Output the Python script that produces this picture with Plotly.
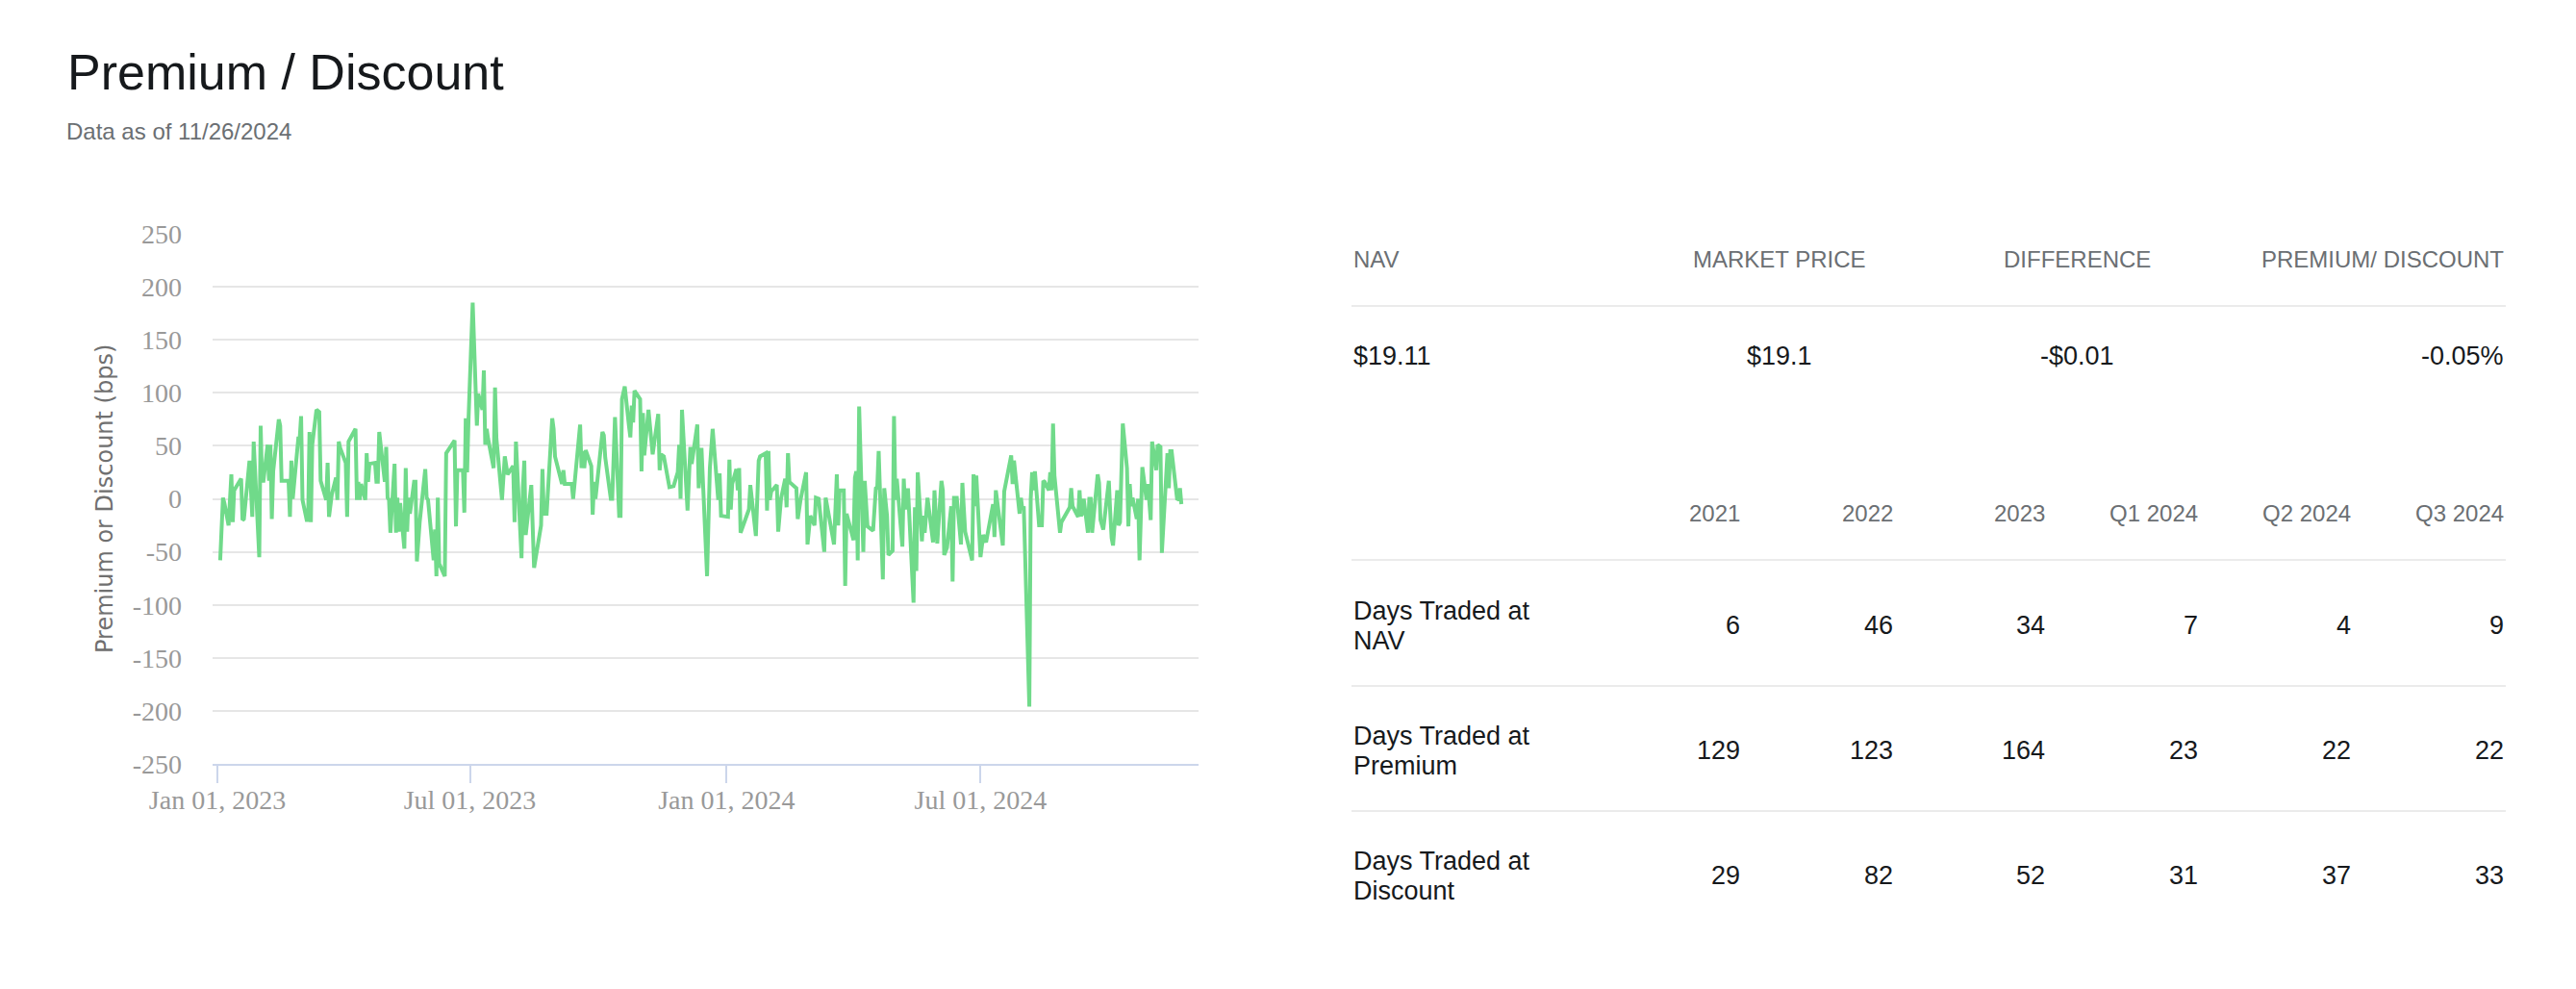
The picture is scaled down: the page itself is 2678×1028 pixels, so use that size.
import pandas as pd
import plotly.graph_objects as go

# %%
# premium / discount in bps (trading-day index from 2023-01-03)
day_idx = [
    0, 1, 2, 3, 4, 6, 7, 8, 10, 11, 12, 14, 15, 16, 17, 18, 19, 20, 21, 22, 23, 24, 25, 26, 27, 29, 30, 31, 33, 34,
    35, 36, 38, 39, 40, 41, 42, 43, 44, 45, 46, 47, 49, 50, 52, 53, 54, 56, 57, 58, 59, 60, 62, 63, 64, 66, 67, 68, 69, 70,
    71, 72, 73, 74, 76, 77, 78, 79, 80, 81, 82, 83, 84, 85, 86, 87, 88, 89, 90, 91, 92, 93, 94, 95, 96, 97, 98, 100, 101, 102,
    103, 105, 106, 107, 108, 109, 111, 112, 115, 116, 117, 119, 120, 121, 122, 123, 124, 126, 127, 128, 129, 130, 131, 132, 134, 135, 136, 138, 140, 141,
    142, 144, 145, 146, 148, 149, 150, 151, 153, 155, 158, 159, 160, 162, 164, 165, 166, 168, 169, 170, 173, 174, 177, 178, 179, 180, 181, 183, 184, 185,
    186, 189, 190, 191, 193, 194, 196, 197, 198, 199, 201, 202, 203, 204, 205, 206, 208, 209, 210, 211, 212, 215, 217, 218, 219, 221, 223, 225, 226, 227,
    228, 229, 231, 233, 234, 236, 237, 239, 241, 243, 245, 246, 247, 248, 250, 251, 252, 253, 254, 255, 256, 257, 259, 260, 261, 263, 265, 266, 268, 269,
    270, 271, 272, 274, 275, 277, 278, 279, 280, 281, 283, 284, 286, 288, 289, 291, 292, 293, 295, 297, 298, 302, 304, 305, 306, 307, 308, 309, 311, 312,
    313, 314, 315, 316, 317, 318, 319, 321, 323, 324, 325, 326, 327, 329, 330, 331, 332, 333, 334, 336, 337, 338, 340, 342, 343, 344, 345, 346, 347, 348,
    350, 351, 352, 354, 355, 356, 357, 359, 360, 361, 362, 364, 365, 366, 367, 370, 371, 372, 373, 374, 376, 377, 380, 381, 382, 385, 386, 389, 390, 391,
    393, 394, 395, 396, 398, 399, 400, 401, 402, 403, 405, 406, 407, 408, 409, 410, 411, 412, 414, 415, 418, 419, 420, 422, 423, 424, 425, 426, 427, 428,
    429, 430, 431, 432, 433, 434, 436, 438, 439, 440, 441, 442, 443, 444, 446, 447, 448, 449, 450, 451, 452, 453, 454, 456, 457, 458, 460, 461, 462, 463,
    465, 466, 468, 469, 470, 471, 473, 474, 475, 476,
]
prem_bps = [
    -58, -26, 1, -4, -25, 23, -22, 8, 19, -20, -19, 36, -1, -17, 54, -17, -55, 69, 17, 17, 51, 17, 51, -19, 26, 75, 69, 17, 17, -17,
    36, 0, 57, 57, 78, -1, -20, -20, 63, -22, 51, 84, 82, 17, -1, 34, -17, 4, 20, -1, 54, 48, 34, -17, 54, 66, -1, 16, -1, 14,
    -1, 43, 16, 33, 34, 16, 16, 63, 51, 16, 49, 1, -1, -32, 33, -32, 1, -31, -4, -47, 29, -31, 1, -14, 16, 16, -59, -22, 28, 1,
    -1, -58, -29, -73, 1, -61, -73, 43, 55, -26, 27, 27, -13, 76, 25, 75, 185, 69, 99, 84, 121, 51, 66, 57, 29, 105, 57, -1, 40, 31,
    23, 31, -22, 54, -56, 11, 36, -34, 13, -65, -25, 28, -14, -14, 76, 66, 40, 14, 27, 14, 14, 0, 70, 29, 45, 29, 46, 31, -15, 16,
    0, 63, 60, 39, 0, 0, 77, -16, -16, 94, 106, 69, 58, 88, 72, 102, 94, 26, 81, 41, 84, 42, 80, 27, 42, 40, 11, 12, 25, 51,
    0, 84, -11, 49, 33, 70, 10, 48, -73, 29, 66, -1, 24, -16, -17, 37, -10, 14, 28, 8, 29, -32, -13, -10, 13, -35, 36, 40, 43, -11,
    45, -1, 7, 13, -31, 0, 19, -8, 43, 16, 10, -19, -1, 25, -43, -16, -25, 1, 0, -50, 1, -43, 23, -25, 8, 8, -82, -14, -39, 20,
    26, -58, 87, -50, 17, -1, -26, -30, 10, 11, 45, -76, 10, -16, -53, -49, 78, -1, 19, -45, 19, -10, 10, -98, -8, -68, 25, -40, -16, -32,
    1, -41, 8, -42, 17, 8, -53, -46, -7, -78, 1, 1, -43, 15, -31, -58, 23, -7, 22, -55, -34, -41, -5, -36, 8, -44, 7, 41, 14, 36,
    -14, 1, -10, -7, -196, 0, 25, 8, 26, -25, -25, 17, 16, 8, 25, 8, 71, 22, -32, -22, -8, 10, -7, -17, 8, -16, -14, 0, -32, 0,
    0, -32, -16, 23, 15, -20, -29, 17, -13, -37, -44, 8, -25, -22, 71, 29, -26, 14, -7, 1, -19, 0, -58, 30, -1, 14, -20, 54, 27, 51,
    49, -51, 43, 10, 45, 45, -1, 0, 10, -5,
]

nyse_holidays = [
    "2023-01-02", "2023-01-16", "2023-02-20", "2023-04-07", "2023-05-29", "2023-06-19", "2023-07-04",
    "2023-09-04", "2023-11-23", "2023-12-25", "2024-01-01", "2024-01-15", "2024-02-19", "2024-03-29",
    "2024-05-27", "2024-06-19", "2024-07-04", "2024-09-02",
]

y_ticks = [-250, -200, -150, -100, -50, 0, 50, 100, 150, 200, 250]

# table data
quote_cols = ["NAV", "MARKET PRICE", "DIFFERENCE", "PREMIUM/ DISCOUNT"]
quote_vals = ["$19.11", "$19.1", "-$0.01", "-0.05%"]
periods = ["2021", "2022", "2023", "Q1 2024", "Q2 2024", "Q3 2024"]
row_labels = [("Days Traded at", "NAV"), ("Days Traded at", "Premium"), ("Days Traded at", "Discount")]
days_nav = [6, 46, 34, 7, 4, 9]
days_premium = [129, 123, 164, 23, 22, 22]
days_discount = [29, 82, 52, 31, 37, 33]

# %%
trade_days = pd.bdate_range("2023-01-03", "2024-11-26", freq="C", holidays=nyse_holidays)
dates = trade_days[day_idx]

W, H = 2678, 1028
def px(x):
    return x / W
def py(y):
    return 1 - y / H

sans = "Liberation Sans"
grey_hdr = "#6b6f73"
ink = "#16191c"

fig = go.Figure()
fig.add_trace(go.Scatter(x=dates, y=prem_bps, mode="lines",
                         line=dict(color="#70da8a", width=4), hoverinfo="x+y"))

fig.update_layout(
    width=W, height=H,
    margin=dict(l=0, r=0, t=0, b=0, autoexpand=False),
    paper_bgcolor="white", plot_bgcolor="white",
    showlegend=False,
    xaxis=dict(
        domain=[px(221), px(1246)],
        range=["2022-12-28 13:00", "2024-12-04 07:00"],
        type="date", tick0="2023-01-01", dtick="M6", tickformat="%b %d, %Y",
        showgrid=False, zeroline=False, automargin=False,
        showline=True, linecolor="#ccd6eb", linewidth=2,
        ticks="outside", ticklen=18, tickwidth=2, tickcolor="#ccd6eb",
        ticklabelstandoff=-7,
        tickfont=dict(family="Liberation Serif", size=28, color="#999999"),
    ),
    yaxis=dict(
        domain=[py(794), py(243)],
        range=[-250, 250],
        tickvals=y_ticks, ticktext=[str(v) for v in y_ticks],
        showgrid=True, gridcolor="#e6e6e6", gridwidth=2,
        zeroline=False, showline=False, ticks="", automargin=False,
        ticklabelstandoff=31,
        tickfont=dict(family="Liberation Serif", size=28, color="#999999"),
    ),
)

ann = []
# heading
ann.append(dict(x=px(68), y=py(75), text="Premium / Discount", xanchor="left", yanchor="middle",
                font=dict(family=sans, size=52, color=ink)))
ann.append(dict(x=px(67), y=py(137), text="Data as of 11/26/2024", xanchor="left", yanchor="middle",
                font=dict(family=sans, size=24, color=grey_hdr)))
# y title
ann.append(dict(x=px(109), y=py(518), text="Premium or Discount (bps)", textangle=-90,
                xanchor="center", yanchor="middle",
                font=dict(family="DejaVu Sans", size=24, color="#707070")))

# quote table
left, right = 1405, 2605
quote_x = [(left, "left"), (1850, "center"), (2159, "center"), (right, "right")]
for (x, anc), col, val in zip(quote_x, quote_cols, quote_vals):
    ann.append(dict(x=px(x), y=py(270), text=col, xanchor=anc, yanchor="middle",
                    font=dict(family=sans, size=24, color=grey_hdr)))
    ann.append(dict(x=px(x), y=py(370), text=val, xanchor=anc, yanchor="middle",
                    font=dict(family=sans, size=27, color=ink)))

# days traded table
col_right = [1811, 1970, 2128, 2287, 2446, 2605]
for x, p in zip(col_right, periods):
    ann.append(dict(x=px(x), y=py(533), text=p, xanchor="right", yanchor="middle",
                    font=dict(family=sans, size=24, color=grey_hdr)))
row_y = [650, 780, 910]
for y, (lab1, lab2), vals in zip(row_y, row_labels, [days_nav, days_premium, days_discount]):
    ann.append(dict(x=px(left), y=py(y - 15), text=lab1, xanchor="left", yanchor="middle",
                    font=dict(family=sans, size=27, color=ink)))
    ann.append(dict(x=px(left), y=py(y + 16), text=lab2, xanchor="left", yanchor="middle",
                    font=dict(family=sans, size=27, color=ink)))
    for x, v in zip(col_right, vals):
        ann.append(dict(x=px(x), y=py(y), text=str(v), xanchor="right", yanchor="middle",
                        font=dict(family=sans, size=27, color=ink)))

for a in ann:
    a.update(xref="paper", yref="paper", showarrow=False)
fig.update_layout(annotations=ann)

for y in [318, 582, 713, 843]:
    fig.add_shape(type="line", xref="paper", yref="paper", x0=px(left), x1=px(right), y0=py(y), y1=py(y),
                  line=dict(color="#ebebeb", width=2))

fig.write_html("out.html", post_script="document.body.style.margin='0';", config={"displayModeBar": False})
